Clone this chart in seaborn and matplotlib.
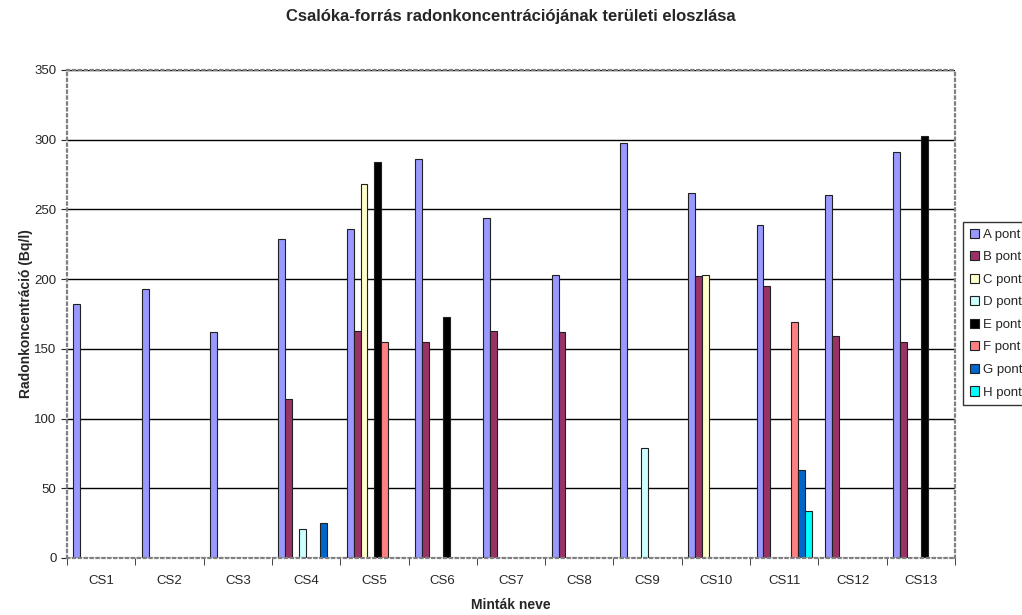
import numpy as np
import pandas as pd
import matplotlib
matplotlib.use("Agg")
import matplotlib.pyplot as plt
import seaborn as sns

mintak = ["CS1", "CS2", "CS3", "CS4", "CS5", "CS6", "CS7",
          "CS8", "CS9", "CS10", "CS11", "CS12", "CS13"]
pontok = ["A pont", "B pont", "C pont", "D pont",
          "E pont", "F pont", "G pont", "H pont"]

a_pont = [182, 193, 162, 229, 236, 286, 244, 203, 298, 262, 239, 260, 291]
b_pont = [None, None, None, 114, 163, 155, 163, 162, None, 202, 195, 159, 155]
c_pont = [None, None, None, None, 268, None, None, None, None, 203, None, None, None]
d_pont = [None, None, None, 21, None, None, None, None, 79, None, None, None, None]
e_pont = [None, None, None, None, 284, 173, None, None, None, None, None, None, 303]
f_pont = [None, None, None, None, 155, None, None, None, None, None, 169, None, None]
g_pont = [None, None, None, 25, None, None, None, None, None, None, 63, None, None]
h_pont = [None, None, None, None, None, None, None, None, None, None, 34, None, None]

szinek = ["#9999FF", "#993366", "#FFFFCC", "#CCFFFF",
          "#000000", "#FF8080", "#0066CC", "#00FFFF"]

series = [a_pont, b_pont, c_pont, d_pont, e_pont, f_pont, g_pont, h_pont]
rows = []
for pont, vals in zip(pontok, series):
    for minta, v in zip(mintak, vals):
        if v is not None:
            rows.append({"Minta": minta, "Pont": pont, "Ertek": v})
df = pd.DataFrame(rows)

sns.set_style("white")
plt.rcParams["font.family"] = ["Liberation Sans", "DejaVu Sans"]

fig = plt.figure(figsize=(10.22, 6.15), dpi=100)
ax = fig.add_axes([67 / 1022, 1 - 558 / 615, (955 - 67) / 1022, (558 - 70) / 615])

sns.barplot(data=df, x="Minta", y="Ertek", hue="Pont", order=mintak,
            hue_order=pontok, palette=dict(zip(pontok, szinek)),
            width=0.81, edgecolor="#202020", linewidth=0.8,
            saturation=1, errorbar=None, ax=ax)

ax.set_ylim(0, 350)
ax.set_xlim(-0.5, len(mintak) - 0.5)
ax.set_yticks(np.arange(0, 351, 50))
ax.tick_params(axis="y", labelsize=9.5, length=4, direction="out", left=True)
ax.set_axisbelow(True)
ax.yaxis.grid(True, color="black", linewidth=1)
ax.xaxis.grid(False)

# category boundary ticks
ax.set_xticks(np.arange(-0.5, len(mintak), 1), minor=True)
ax.tick_params(axis="x", which="minor", length=5, direction="out", bottom=True)
ax.tick_params(axis="x", which="major", length=0, labelsize=9.5, pad=12)

for s in ax.spines.values():
    s.set_color("#808080")
    s.set_linestyle(":")
    s.set_linewidth(1.6)

ax.set_xlabel("Minták neve", fontsize=10, fontweight="bold", labelpad=8)
ax.set_ylabel("Radonkoncentráció (Bq/l)", fontsize=10, fontweight="bold", labelpad=1)
fig.text(0.5, 1 - 17 / 615, "Csalóka-forrás radonkoncentrációjának területi eloszlása",
         ha="center", va="center", fontsize=12, fontweight="bold")

handles, labels = ax.get_legend_handles_labels()
ax.legend(handles, labels, loc="upper left",
          bbox_to_anchor=(963 / 1022, 1 - 222 / 615), bbox_transform=fig.transFigure,
          frameon=True, fancybox=False, edgecolor="black", fontsize=9.5,
          handlelength=0.7, handleheight=0.7, handletextpad=0.3,
          labelspacing=0.78, borderpad=0.5, borderaxespad=0)
ax.get_legend().get_frame().set_linewidth(1)

fig.savefig("out.png", dpi=100)
